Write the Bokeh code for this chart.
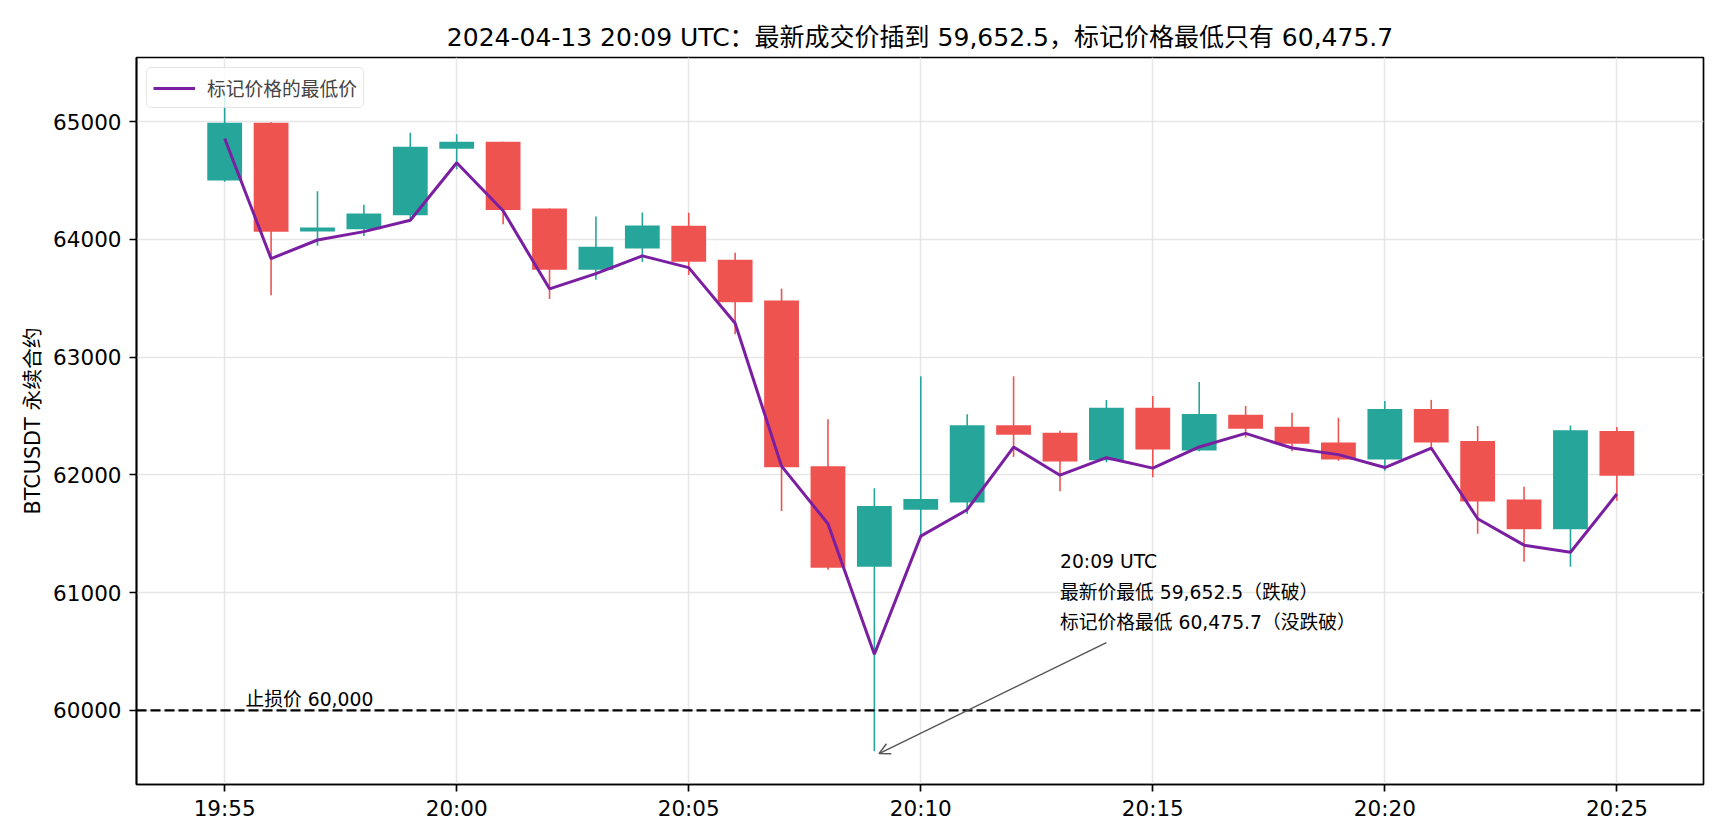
import pandas as pd
from bokeh.plotting import figure
from bokeh.models import (ColumnDataSource, Range1d, FixedTicker, DatetimeTickFormatter,
                          Span, Label, Arrow, OpenHead)
from bokeh.core.properties import value
from bokeh.embed import file_html
from bokeh.resources import INLINE

# 1 分钟 K 线，2024-04-13 19:55 ~ 20:25 (UTC)
minutes = ["19:55", "19:56", "19:57", "19:58", "19:59", "20:00", "20:01", "20:02",
           "20:03", "20:04", "20:05", "20:06", "20:07", "20:08", "20:09", "20:10",
           "20:11", "20:12", "20:13", "20:14", "20:15", "20:16", "20:17", "20:18",
           "20:19", "20:20", "20:21", "20:22", "20:23", "20:24", "20:25"]

opens = [64500, 64990, 64068, 64086, 64206, 64771, 64829, 64263, 63743, 63923,
         64116, 63828, 63480, 62074, 61220, 61703, 61765, 62422, 62357, 62124,
         62569, 62207, 62510, 62408, 62274, 62131, 62560, 62288, 61790, 61537, 62373]
highs = [65265, 64995, 64409, 64295, 64906, 64894, 64829, 64263, 64194, 64229,
         64226, 63887, 63582, 62472, 61887, 62837, 62514, 62837, 62375, 62636,
         62670, 62789, 62586, 62527, 62485, 62628, 62637, 62415, 61900, 62420, 62407]
lows = [64490, 63526, 63946, 64029, 64180, 64595, 64129, 63494, 63657, 63809,
        63698, 63195, 61692, 61195, 59652.5, 61490, 61667, 62153, 61860, 62107,
        61980, 62200, 62318, 62200, 62120, 62034, 62206, 61500, 61262, 61220, 61780]
closes = [64990, 64066, 64100, 64220, 64786, 64829, 64249, 63743, 63937, 64117,
          63811, 63466, 62065, 61212, 61735, 61794, 62422, 62340, 62114, 62569,
          62216, 62518, 62392, 62265, 62131, 62560, 62275, 61774, 61537, 62378, 61992]
mark_lows = [64857, 63837, 63995, 64066, 64163, 64651, 64243, 63580, 63709, 63860,
             63760, 63288, 62074, 61585, 60475.7, 61480, 61704, 62236, 61997, 62146,
             62057, 62237, 62352, 62228, 62172, 62062, 62228, 61627, 61403, 61343, 61837]

y_ticks = [60000, 61000, 62000, 63000, 64000, 65000]
stop_price = 60000

UP = "#26a69a"
DOWN = "#ef5350"
MARK = "#7b1fa2"
FONT = "DejaVu Sans, Noto Sans CJK SC"

times = pd.to_datetime(["2024-04-13 " + m for m in minutes])
low_min = min(lows)
mark_min = min(mark_lows)
i_low = lows.index(low_min)


def ms(ts):
    return ts.value // 10**6


source = ColumnDataSource(data=dict(
    t=times,
    top=[max(o, c) for o, c in zip(opens, closes)],
    bottom=[min(o, c) for o, c in zip(opens, closes)],
    high=highs,
    low=lows,
    mark=mark_lows,
    color=[UP if c >= o else DOWN for o, c in zip(opens, closes)],
))

t0 = times[0]
p = figure(width=1709, height=824, x_axis_type="datetime",
           x_range=Range1d(t0 - pd.Timedelta(seconds=114), t0 + pd.Timedelta(seconds=1912)),
           y_range=Range1d(59370, 65545),
           title=f"2024-04-13 20:09 UTC：最新成交价插到 {low_min:,.1f}，标记价格最低只有 {mark_min:,.1f}",
           tools="", toolbar_location=None, output_backend="svg",
           min_border_left=136, min_border_right=6, min_border_top=57, min_border_bottom=40)

# 影线 + 实体
p.segment(x0="t", y0="low", x1="t", y1="high", source=source, line_color="color", line_width=1.6)
p.vbar(x="t", top="top", bottom="bottom", width=45000, source=source,
       fill_color="color", line_color=None)

# 标记价格的最低价
p.line(x="t", y="mark", source=source, line_color=MARK, line_width=3,
       legend_label="标记价格的最低价")

# 止损线
p.add_layout(Span(location=stop_price, dimension="width", line_color="black",
                  line_dash="10 4", line_width=2.2))
p.add_layout(Label(x=ms(t0 + pd.Timedelta(seconds=27)), y=stop_price, text=f"止损价 {stop_price:,}",
                   text_font=FONT, text_font_size="18.75px", text_baseline="bottom",
                   text_color="black"))

# 注释
note = f"20:09 UTC\n最新价最低 {low_min:,.1f}（跌破）\n标记价格最低 {mark_min:,.1f}（没跌破）"
p.text(x=[times[18]], y=[61350], text=[note], text_font=value(FONT),
       text_font_size="18.75px", text_baseline="top", text_align="left",
       text_line_height=1.45, text_color="black")
p.add_layout(Arrow(end=OpenHead(size=11, line_color="#555555", line_width=1.5),
                   x_start=ms(times[19]), y_start=60575,
                   x_end=ms(times[i_low] + pd.Timedelta(seconds=6)), y_end=low_min - 20,
                   line_color="#555555", line_width=1.5))

# 坐标轴
xt = FixedTicker(ticks=[ms(t) for t in times[::5]])
yt = FixedTicker(ticks=y_ticks)
p.xaxis.ticker = xt
p.xgrid.ticker = xt
p.yaxis.ticker = yt
p.ygrid.ticker = yt
p.xaxis.formatter = DatetimeTickFormatter(seconds="%H:%M", minsec="%H:%M", minutes="%H:%M",
                                          hourmin="%H:%M", hours="%H:%M")
p.yaxis.axis_label = "BTCUSDT 永续合约"

for ax in (p.xaxis, p.yaxis):
    ax.axis_line_color = "black"
    ax.axis_line_width = 1.7
    ax.major_tick_line_color = "black"
    ax.major_tick_line_width = 1.7
    ax.major_tick_out = 7
    ax.major_tick_in = 0
    ax.minor_tick_line_color = None
    ax.major_label_text_font = FONT
    ax.major_label_text_font_size = "21.5px"
    ax.major_label_text_color = "black"
    ax.major_label_standoff = 8
    ax.axis_label_text_font = FONT
    ax.axis_label_text_font_size = "20.8px"
    ax.axis_label_text_font_style = "normal"
    ax.axis_label_text_color = "black"
    ax.axis_label_standoff = 5
p.xaxis.major_label_standoff = 4

p.grid.grid_line_color = "#e6e6e6"
p.grid.grid_line_width = 1.5
p.outline_line_color = "black"
p.outline_line_width = 1.7
p.outline_line_alpha = 1

p.title.text_font = FONT
p.title.text_font_size = "25px"
p.title.text_font_style = "normal"
p.title.text_color = "black"
p.title.align = "center"
p.title.standoff = 11

p.legend.location = "top_left"
p.legend.margin = 10
p.legend.padding = 6
p.legend.glyph_width = 42
p.legend.label_standoff = 12
p.legend.label_text_font = FONT
p.legend.label_text_font_size = "18.75px"
p.legend.border_line_color = "#cccccc"
p.legend.border_line_width = 1.7
p.legend.border_radius = 5
p.legend.background_fill_alpha = 0.8

open("out.html", "w").write(file_html(p, INLINE))
